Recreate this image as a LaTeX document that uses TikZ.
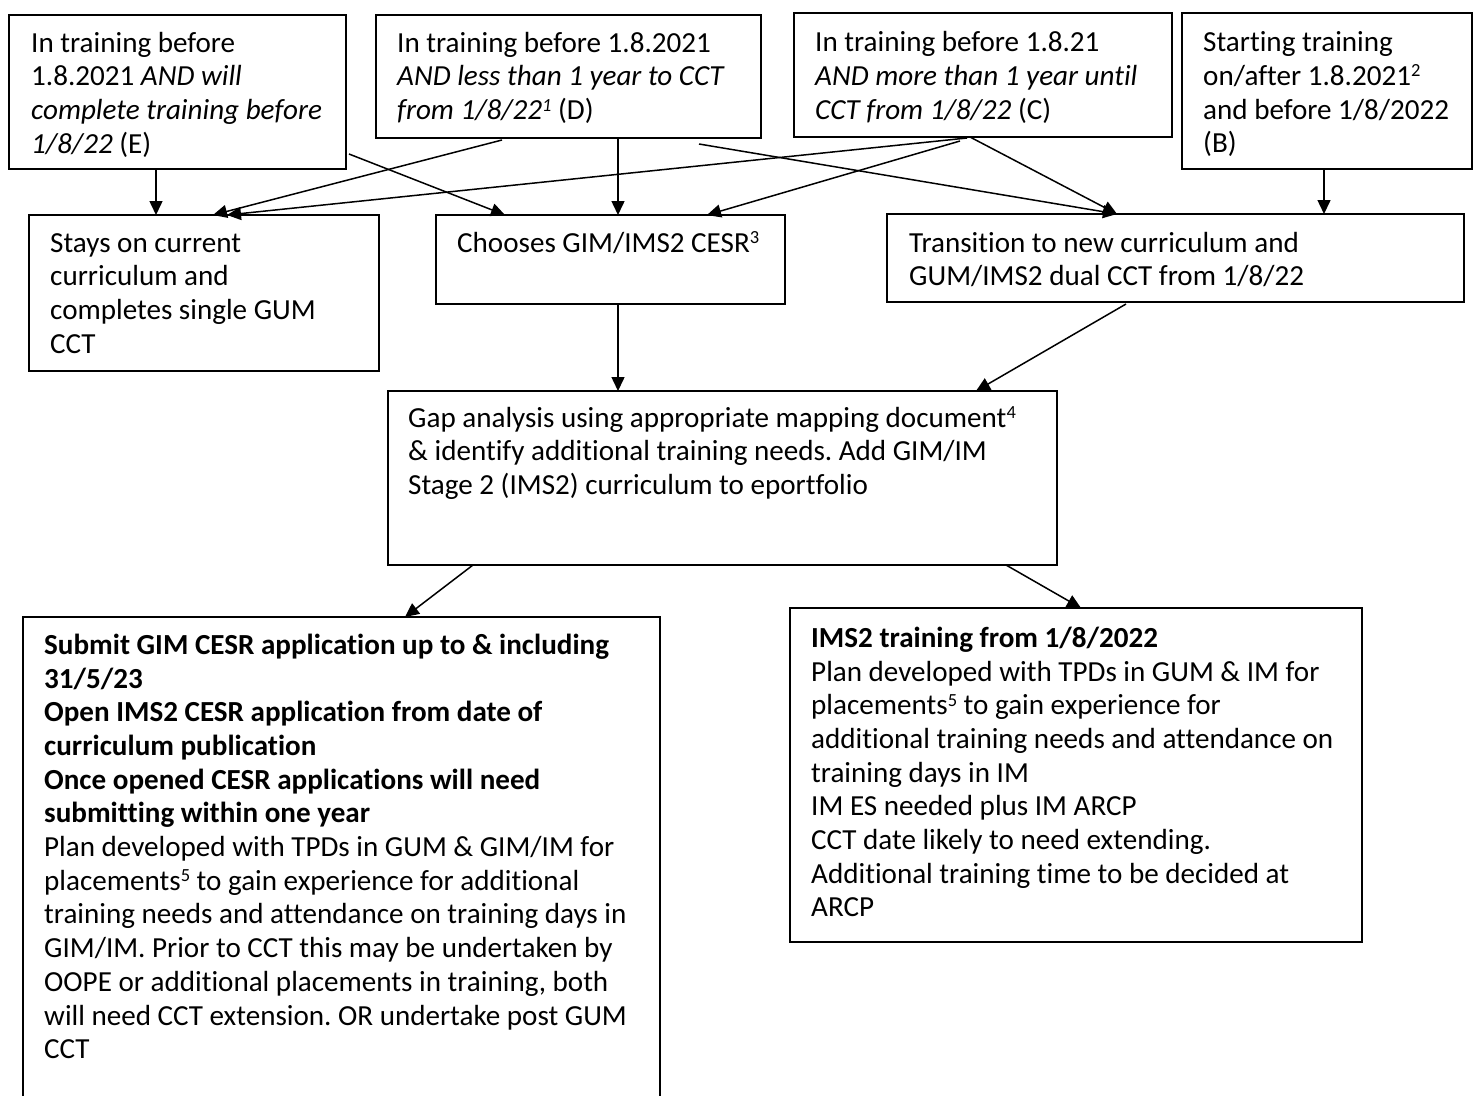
\documentclass[tikz,border=0pt]{standalone}
\usepackage{fontspec}
\setmainfont{Carlito}[Ligatures=NoCommon]
\usetikzlibrary{calc,arrows.meta}
\newcommand\supnum[1]{\raisebox{0.62ex}{\fontsize{18.5}{18.5}\selectfont #1}}
\frenchspacing
\begin{document}
\begin{tikzpicture}[x=1pt,y=-1pt,
  card/.style={draw, line width=1.8pt, anchor=north west, inner sep=0pt, outer sep=0pt},
  txt/.style={anchor=north west, inner sep=0pt, align=left, font=\fontsize{29.1}{33.7}\selectfont\frenchspacing},
  link/.style={line width=1.5pt, -{Triangle[length=14pt,width=13pt]}}]
\useasboundingbox (0,0) rectangle (1474,1095);
\fill[white] (0,0) rectangle (1474,1095);
\clip (0,0) rectangle (1474,1095);

% boxes
\node[card, minimum width=337pt, minimum height=154pt] (e) at (9,15) {};
\node[card, minimum width=385pt, minimum height=123pt] (d) at (376,15) {};
\node[card, minimum width=378pt, minimum height=124pt] (c) at (794,13) {};
\node[card, minimum width=290pt, minimum height=156pt] (b) at (1182,13) {};
\node[card, minimum width=350pt, minimum height=156pt] (stay) at (29,215) {};
\node[card, minimum width=349pt, minimum height=89pt] (choose) at (436,215) {};
\node[card, minimum width=577pt, minimum height=88pt] (trans) at (887,214) {};
\node[card, minimum width=669pt, minimum height=174pt] (gap) at (388,391) {};
\node[card, minimum width=637pt, minimum height=520pt] (submit) at (23,617) {};
\node[card, minimum width=572pt, minimum height=334pt] (ims) at (790,608) {};

% texts
\node[txt] (et) at ($(e.north west)+(22,13.5)$) {\strut In training before\\1.8.2021 \textit{AND will}\\\textit{complete training before}\\\textit{1/8/22} (E)};
\node[txt] (dt) at ($(d.north west)+(21,13.5)$) {\strut In training before 1.8.2021\\\textit{AND less than 1 year to CCT}\\\textit{from 1/8/22\supnum{1}} (D)};
\node[txt] (ct) at ($(c.north west)+(21,15)$) {\strut In training before 1.8.21\\\textit{AND more than 1 year until}\\\textit{CCT from 1/8/22} (C)};
\node[txt] (bt) at ($(b.north west)+(21,15)$) {\strut Starting training\\on/after 1.8.2021\supnum{2}\\and before 1/8/2022\\(B)};
\node[txt] (stayt) at ($(stay.north west)+(21,13.5)$) {\strut Stays on current\\curriculum and\\completes single GUM\\CCT};
\node[txt] (chooset) at ($(choose.north west)+(21,13.5)$) {\strut Chooses GIM/IMS2 CESR\supnum{3}};
\node[txt] (transt) at ($(trans.north west)+(22,14.5)$) {\strut Transition to new curriculum and\\GUM/IMS2 dual CCT from 1/8/22};
\node[txt] (gapt) at ($(gap.north west)+(20,12.5)$) {\strut Gap analysis using appropriate mapping document\supnum{4}\\\& identify additional training needs. Add GIM/IM\\Stage 2 (IMS2) curriculum to eportfolio};
\node[txt] (submitt) at ($(submit.north west)+(21,13.5)$) {\strut\textbf{Submit GIM CESR application up to \& including}\\\textbf{31/5/23}\\\textbf{Open IMS2 CESR application from date of}\\\textbf{curriculum publication}\\\textbf{Once opened CESR applications will need}\\\textbf{submitting within one year}\\Plan developed with TPDs in GUM \& GIM/IM for\\placements\supnum{5} to gain experience for additional\\training needs and attendance on training days in\\GIM/IM. Prior to CCT this may be undertaken by\\OOPE or additional placements in training, both\\will need CCT extension. OR undertake post GUM\\CCT};
\node[txt] (imst) at ($(ims.north west)+(21,15.5)$) {\strut\textbf{IMS2 training from 1/8/2022}\\Plan developed with TPDs in GUM \& IM for\\placements\supnum{5} to gain experience for\\additional training needs and attendance on\\training days in IM\\IM ES needed plus IM ARCP\\CCT date likely to need extending.\\Additional training time to be decided at\\ARCP};

% connectors
\draw[link] ([xshift=147pt]e.south west) -- ([xshift=127pt]stay.north west);
\draw[link] ([shift={(3pt,15pt)}]e.south east) -- ([xshift=69pt]choose.north west);
\draw[link] ([shift={(126pt,-2pt)}]d.south west) -- ([xshift=184pt]stay.north west);
\draw[link] ([xshift=242pt]d.south west) -- ([xshift=182pt]choose.north west);
\draw[link] ([shift={(323pt,-6pt)}]d.south west) -- ([xshift=230pt]trans.north west);
\draw[link] ([shift={(173pt,-1pt)}]c.south west) -- ([xshift=198pt]stay.north west);
\draw[link] ([shift={(166pt,-4pt)}]c.south west) -- ([xshift=271pt]choose.north west);
\draw[link] ([xshift=176pt]c.south west) -- ([xshift=230pt]trans.north west);
\draw[link] ([xshift=142pt]b.south west) -- ([xshift=437pt]trans.north west);
\draw[link] ([xshift=182pt]choose.south west) -- ([xshift=230pt]gap.north west);
\draw[link] ([shift={(239pt,-2pt)}]trans.south west) -- ([xshift=588pt]gap.north west);
\draw[link] ([xshift=85pt]gap.south west) -- ([xshift=382pt]submit.north west);
\draw[link] ([xshift=618pt]gap.south west) -- ([xshift=291pt]ims.north west);
\end{tikzpicture}
\end{document}
